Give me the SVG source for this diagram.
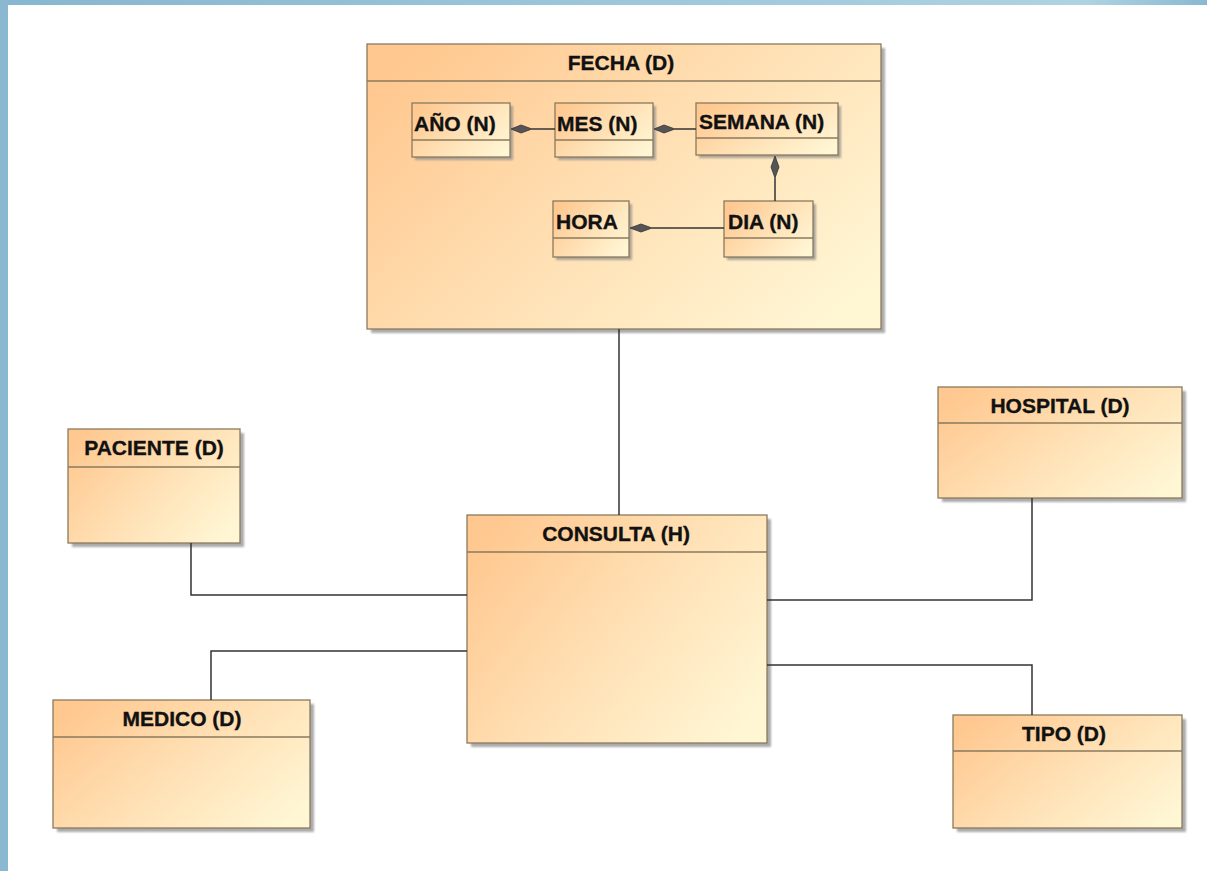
<svg xmlns="http://www.w3.org/2000/svg" width="1207" height="871" viewBox="0 0 1207 871">
<defs>
<style>
.box{stroke:#8a7a5c;stroke-width:1.3;fill:url(#g)}
.sh{fill:#8f8f8f;opacity:0.75;filter:url(#blur)}
.hl{stroke:#8a7a5c;stroke-width:1.3}
.t{font-family:"Liberation Sans",Arial,sans-serif;font-weight:bold;font-size:21px;fill:#111;stroke:#111;stroke-width:0.35}
.c{text-anchor:middle}
.ln{stroke:#333;stroke-width:1.5;fill:none}
.dm{fill:#555;stroke:#333;stroke-width:0.8}
</style>
<linearGradient id="g" x1="0" y1="0.2" x2="1" y2="0.8">
<stop offset="0" stop-color="#ffc890"/>
<stop offset="0.5" stop-color="#ffe0b4"/>
<stop offset="1" stop-color="#fff6d4"/>
</linearGradient>
<linearGradient id="top" x1="0" y1="0" x2="1" y2="0">
<stop offset="0" stop-color="#87b6d0"/>
<stop offset="0.9" stop-color="#aed3e2"/>
<stop offset="1" stop-color="#8ab8d2"/>
</linearGradient>
<filter id="blur" x="-10%" y="-10%" width="120%" height="120%"><feGaussianBlur stdDeviation="1.2"/></filter>
</defs>
<rect width="1207" height="871" fill="#ffffff"/>
<rect x="0" y="0" width="1207" height="5" fill="url(#top)"/>
<rect x="0" y="0" width="8" height="871" fill="#8ab8d0"/>

<g id="fecha">
<rect class="sh" x="371" y="48" width="514" height="285"/>
<rect class="box" x="367" y="44" width="514" height="285"/>
<line class="hl" x1="367" y1="81" x2="881" y2="81"/>
<text class="t c" x="621" y="70">FECHA (D)</text>
</g>

<g id="anio">
<rect class="sh" x="415" y="106" width="98" height="54"/>
<rect class="box" x="412" y="103" width="98" height="54"/>
<line class="hl" x1="412" y1="140" x2="510" y2="140"/>
<text class="t" x="414" y="131">AÑO (N)</text>
</g>
<g id="mes">
<rect class="sh" x="558" y="106" width="98" height="54"/>
<rect class="box" x="555" y="103" width="98" height="54"/>
<line class="hl" x1="555" y1="140" x2="653" y2="140"/>
<text class="t" x="557" y="131">MES (N)</text>
</g>
<g id="semana">
<rect class="sh" x="699" y="106" width="142" height="52"/>
<rect class="box" x="696" y="103" width="142" height="52"/>
<line class="hl" x1="696" y1="138" x2="838" y2="138"/>
<text class="t" x="699" y="129">SEMANA (N)</text>
</g>
<g id="hora">
<rect class="sh" x="556" y="204" width="76" height="56"/>
<rect class="box" x="553" y="201" width="76" height="56"/>
<line class="hl" x1="553" y1="238" x2="629" y2="238"/>
<text class="t" x="556" y="229">HORA</text>
</g>
<g id="dia">
<rect class="sh" x="727" y="204" width="89" height="56"/>
<rect class="box" x="724" y="201" width="89" height="56"/>
<line class="hl" x1="724" y1="238" x2="813" y2="238"/>
<text class="t" x="728" y="229">DIA (N)</text>
</g>

<g id="paciente">
<rect class="sh" x="72" y="433" width="172" height="114"/>
<rect class="box" x="68" y="429" width="172" height="114"/>
<line class="hl" x1="68" y1="467" x2="240" y2="467"/>
<text class="t c" x="154" y="455">PACIENTE (D)</text>
</g>
<g id="hospital">
<rect class="sh" x="942" y="391" width="244" height="111"/>
<rect class="box" x="938" y="387" width="244" height="111"/>
<line class="hl" x1="938" y1="423" x2="1182" y2="423"/>
<text class="t c" x="1060" y="413">HOSPITAL (D)</text>
</g>
<g id="consulta">
<rect class="sh" x="471" y="519" width="300" height="228"/>
<rect class="box" x="467" y="515" width="300" height="228"/>
<line class="hl" x1="467" y1="552" x2="767" y2="552"/>
<text class="t c" x="616" y="541">CONSULTA (H)</text>
</g>
<g id="medico">
<rect class="sh" x="57" y="704" width="257" height="128"/>
<rect class="box" x="53" y="700" width="257" height="128"/>
<line class="hl" x1="53" y1="737" x2="310" y2="737"/>
<text class="t c" x="182" y="726">MEDICO (D)</text>
</g>
<g id="tipo">
<rect class="sh" x="957" y="719" width="229" height="113"/>
<rect class="box" x="953" y="715" width="229" height="113"/>
<line class="hl" x1="953" y1="751" x2="1182" y2="751"/>
<text class="t c" x="1064" y="741">TIPO (D)</text>
</g>

<g id="connectors">
<line class="ln" x1="532" y1="129" x2="555" y2="129"/>
<polygon class="dm" points="511,129 521,125 532,129 521,133"/>
<line class="ln" x1="675" y1="129" x2="696" y2="129"/>
<polygon class="dm" points="654,129 664,125 675,129 664,133"/>
<line class="ln" x1="775" y1="178" x2="775" y2="201"/>
<polygon class="dm" points="775,156 779,167 775,178 771,167"/>
<line class="ln" x1="652" y1="228" x2="724" y2="228"/>
<polygon class="dm" points="630,228 641,224 652,228 641,232"/>
<line class="ln" x1="619" y1="329" x2="619" y2="515"/>
<polyline class="ln" points="191,543 191,595 467,595"/>
<polyline class="ln" points="1032,498 1032,600 767,600"/>
<polyline class="ln" points="211,700 211,651 467,651"/>
<polyline class="ln" points="1032,715 1032,665 767,665"/>
</g>
</svg>
